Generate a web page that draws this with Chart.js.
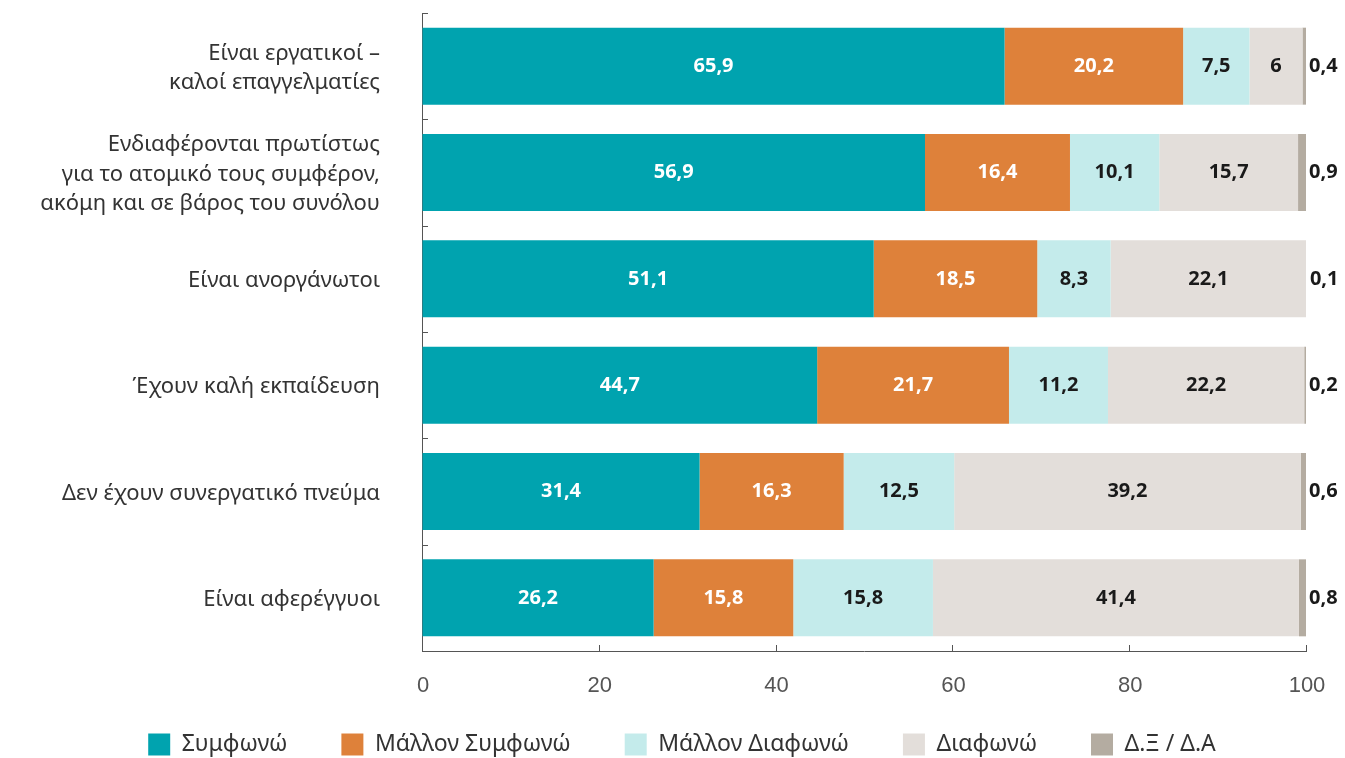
<!DOCTYPE html>
<html>
<head>
<meta charset="utf-8">
<script src="https://cdn.jsdelivr.net/npm/chart.js@4"></script>
<style>
html,body{margin:0;padding:0;background:#fff;}
#wrap{width:1345px;height:758px;position:relative;}
</style>
</head>
<body>
<div id="wrap"><canvas id="c" width="1345" height="758"></canvas></div>
<script>
const categories = [
  ["Είναι εργατικοί –", "καλοί επαγγελματίες"],
  ["Ενδιαφέρονται πρωτίστως", "για το ατομικό τους συμφέρον,", "ακόμη και σε βάρος του συνόλου"],
  ["Είναι ανοργάνωτοι"],
  ["Έχουν καλή εκπαίδευση"],
  ["Δεν έχουν συνεργατικό πνεύμα"],
  ["Είναι αφερέγγυοι"]
];
const seriesNames = ["Συμφωνώ", "Μάλλον Συμφωνώ", "Μάλλον Διαφωνώ", "Διαφωνώ", "Δ.Ξ / Δ.Α"];
const agree         = [65.9, 56.9, 51.1, 44.7, 31.4, 26.2];
const ratherAgree   = [20.2, 16.4, 18.5, 21.7, 16.3, 15.8];
const ratherDisagree= [7.5, 10.1, 8.3, 11.2, 12.5, 15.8];
const disagree      = [6, 15.7, 22.1, 22.2, 39.2, 41.4];
const dkna          = [0.4, 0.9, 0.1, 0.2, 0.6, 0.8];
const xTicks = [0, 20, 40, 60, 80, 100];

const colors = ["#00A3AF", "#DE813A", "#C4EBEB", "#E3DEDA", "#B4ACA1"];
const labelColors = ["#ffffff", "#ffffff", "#1a1a1a", "#1a1a1a", "#1a1a1a"];
const seriesValues = [agree, ratherAgree, ratherDisagree, disagree, dkna];

const fmt = v => String(v).replace('.', ',');

const helperPlugin = {
  id: 'helper',
  afterLayout(chart) {
    // shift the legend row horizontally to match the reference centring
    if (chart.legend) {
      chart.legend.left += 29;
      chart.legend.right += 29;
    }
  },
  afterDatasetsDraw(chart) {
    const ctx = chart.ctx;
    const xs = chart.scales.x, ys = chart.scales.y;
    const area = chart.chartArea;
    ctx.save();
    ctx.strokeStyle = '#555';
    ctx.lineWidth = 1;
    ctx.fillStyle = '#555';
    ctx.font = '22px "Liberation Sans", Arial, sans-serif';
    ctx.textAlign = 'center';
    ctx.textBaseline = 'middle';
    xTicks.forEach(v => {
      const px = Math.round(xs.getPixelForValue(v)) + 0.5;
      ctx.beginPath();
      ctx.moveTo(px, area.bottom);
      ctx.lineTo(px, area.bottom - 6);
      ctx.stroke();
      ctx.fillText(String(v), xs.getPixelForValue(v) + 1, area.bottom + 35);
    });
    const n = categories.length;
    for (let i = 0; i <= n; i++) {
      let py;
      if (i === 0) py = area.top;
      else if (i === n) py = area.bottom;
      else py = (ys.getPixelForValue(i - 1) + ys.getPixelForValue(i)) / 2;
      py = Math.round(py) + 0.5;
      ctx.beginPath();
      ctx.moveTo(area.left, py);
      ctx.lineTo(area.left + 6, py);
      ctx.stroke();
    }
    ctx.font = 'bold 20px "Noto Sans", sans-serif';
    chart.data.datasets.forEach((ds, di) => {
      const meta = chart.getDatasetMeta(di);
      meta.data.forEach((bar, i) => {
        const v = ds.data[i];
        const y = bar.y;
        ctx.fillStyle = labelColors[di];
        if (di === 4) {
          ctx.textAlign = 'left';
          ctx.fillText(fmt(v), Math.max(bar.x, bar.base) + 3, y);
        } else {
          ctx.textAlign = 'center';
          ctx.fillText(fmt(v), (bar.x + bar.base) / 2, y);
        }
      });
    });
    ctx.restore();
  }
};

new Chart(document.getElementById('c'), {
  type: 'bar',
  data: {
    labels: categories,
    datasets: seriesValues.map((vals, i) => ({
      label: seriesNames[i],
      data: vals,
      backgroundColor: colors[i],
      borderWidth: 0,
      barPercentage: 0.724,
      categoryPercentage: 1.0
    }))
  },
  options: {
    indexAxis: 'y',
    responsive: false,
    animation: false,
    layout: { padding: { top: 13, right: 39, left: 0, bottom: 0 } },
    plugins: {
      legend: {
        position: 'bottom',
        maxHeight: 79,
        labels: {
          boxWidth: 22,
          boxHeight: 22,
          padding: 54,
          color: '#333',
          font: { size: 23, family: '"Noto Sans", sans-serif' }
        }
      },
      tooltip: { enabled: false }
    },
    scales: {
      x: {
        stacked: true,
        min: 0,
        max: 100,
        afterBuildTicks: s => { s.ticks = xTicks.map(v => ({ value: v })); },
        grid: { display: true, drawOnChartArea: false, drawTicks: false },
        border: { display: true, color: '#555', width: 1 },
        ticks: { display: false },
        afterFit: s => { s.height = 28; s.paddingLeft = 0; s.paddingRight = 0; }
      },
      y: {
        stacked: true,
        grid: { display: true, drawOnChartArea: false, drawTicks: false },
        border: { display: true, color: '#555', width: 1 },
        ticks: { padding: 42, labelOffset: 2, color: '#333', font: { size: 22, family: '"Noto Sans", sans-serif', lineHeight: 1.34 } },
        afterFit: s => { s.width = 422; s.paddingTop = 0; s.paddingBottom = 0; }
      }
    }
  },
  plugins: [helperPlugin]
});
</script>
</body>
</html>
